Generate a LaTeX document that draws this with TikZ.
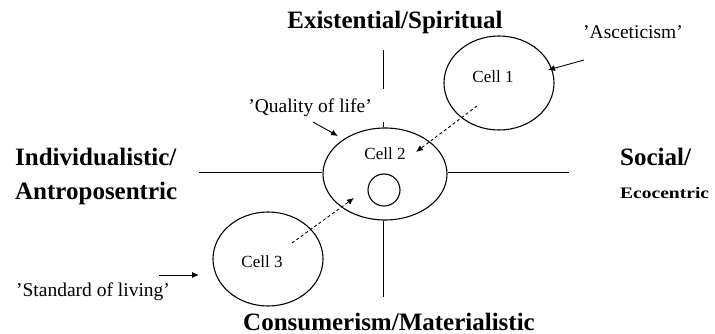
\documentclass[tikz,border=0pt]{standalone}
\usepackage{fontspec}
\setmainfont{Liberation Serif}
\usetikzlibrary{shapes.geometric,arrows.meta}
\tikzset{
  cell/.style={draw, ellipse, line width=1.1pt, inner sep=0pt},
  axislabel/.style={font=\bfseries\fontsize{25}{28}\selectfont, inner sep=0pt, anchor=base},
  smalllabel/.style={font=\fontsize{19.5}{22}\selectfont, inner sep=0pt, anchor=base},
  celltext/.style={font=\fontsize{17}{19}\selectfont, inner sep=0pt, anchor=base},
  axisline/.style={line width=1pt},
  pointer/.style={line width=0.9pt, -{Latex[length=7pt,width=6pt]}},
  dpointer/.style={line width=0.9pt, dashed, dash pattern=on 3pt off 2.5pt, -{Latex[length=7pt,width=6pt]}}
}
\begin{document}
\begin{tikzpicture}[x=1pt,y=-1pt]
\useasboundingbox (0,0) rectangle (715,334);
% ellipses
\node[cell, minimum width=124pt, minimum height=92pt] (c2) at (385,174) {};
\node[cell, minimum width=32pt, minimum height=32pt] (inner) at (384,190) {};
\node[cell, minimum width=110pt, minimum height=94pt] (c1) at (499,83) {};
\node[cell, minimum width=110pt, minimum height=94pt] (c3) at (268,259) {};
% cell texts
\node[celltext] (t1) at (493,83) {Cell 1};
\node[celltext] (t2) at (385,160) {Cell 2};
\node[celltext] (t3) at (262,267) {Cell 3};
% axis labels
\node[axislabel] (top) at (395,29) {Existential/Spiritual};
\node[axislabel] (bottom) at (389,330) {Consumerism/Materialistic};
\node[axislabel, anchor=base west] (left1) at (15,165) {Individualistic/};
\node[axislabel, anchor=base west] (left2) at (15,199) {Antroposentric};
\node[axislabel, anchor=base west] (right1) at (620,165) {Social/};
\node[font=\bfseries\fontsize{16}{18}\selectfont, inner sep=0pt, anchor=base west] (right2) at (620,198) {\scalebox{1.22}[1]{Ecocentric}};
% small labels
\node[smalllabel] (asc) at (633,39) {'Asceticism'};
\node[smalllabel] (qol) at (310,113) {'Quality of life'};
\node[smalllabel] (sol) at (93,296) {'Standard of living'};
% axis lines
\coordinate (vt1) at (383,50);
\coordinate (vt2) at (383,89);
\coordinate (vt3) at (383,122);
\coordinate (vb) at (383,297);
\coordinate (hl) at (199,173);
\coordinate (hr) at (569,173);
\draw[axisline] (vt1) -- (vt2);
\draw[axisline] (vt3) -- (vt3 |- c2.north);
\draw[axisline] (vb |- c2.south) -- (vb);
\draw[axisline] (hl) -- (hl -| c2.west);
\draw[axisline] (hr -| c2.east) -- (hr);
% pointers
\coordinate (a1s) at (584,60);
\coordinate (a1e) at (548,70);
\draw[pointer] (a1s) -- (a1e);
\coordinate (q1s) at (313,122);
\coordinate (q1e) at (338,136);
\draw[pointer] (q1s) -- (q1e);
\coordinate (s1s) at (159,275);
\coordinate (s1e) at (199,275);
\draw[pointer] (s1s) -- (s1e);
\coordinate (d1s) at (477,106);
\coordinate (d1e) at (416,152);
\draw[dpointer] (d1s) -- (d1e);
\coordinate (d3s) at (292,243);
\coordinate (d3e) at (354,198);
\draw[dpointer] (d3s) -- (d3e);
\end{tikzpicture}
\end{document}
